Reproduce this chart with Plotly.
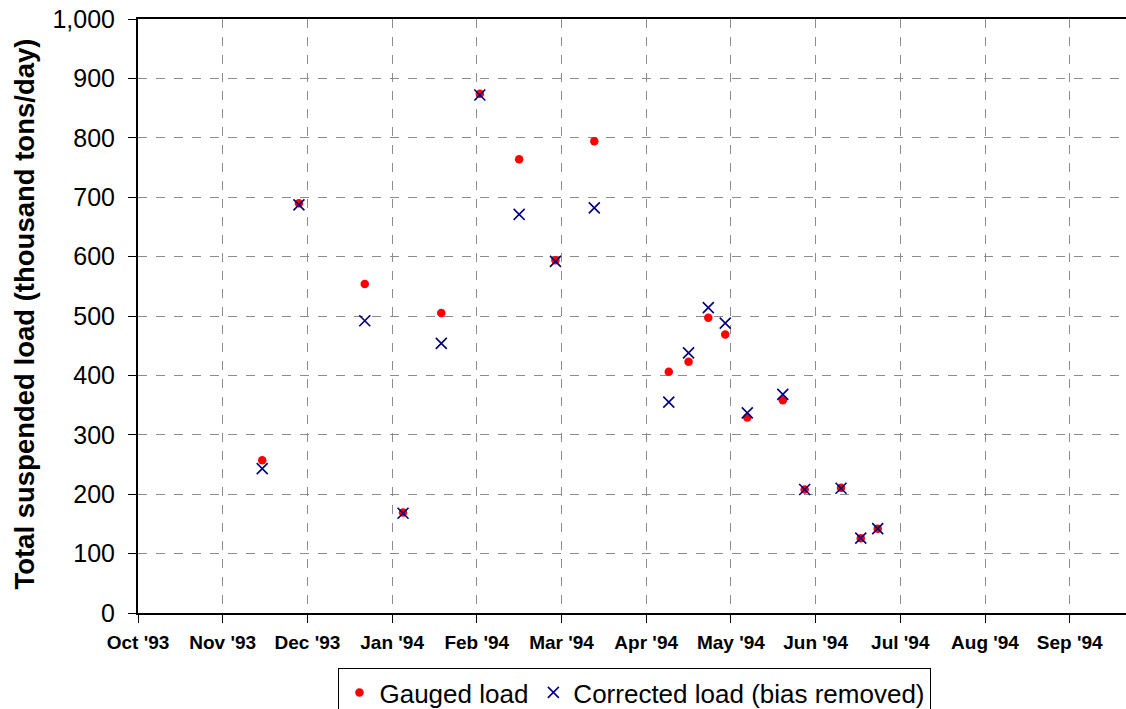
import calendar
from datetime import date
import plotly.graph_objects as go

# sample dates
sample_dates = [
    '1993-11-15', '1993-11-28', '1993-12-22', '1994-01-05', '1994-01-19',
    '1994-02-02', '1994-02-15', '1994-02-27', '1994-03-13', '1994-04-09',
    '1994-04-16', '1994-04-23', '1994-04-29', '1994-05-07', '1994-05-20',
    '1994-05-28', '1994-06-10', '1994-06-17', '1994-06-23',
]
gauged_load = [257, 690, 554, 169, 505, 874, 764, 594, 794, 406,
               423, 497, 469, 329, 358, 208, 211, 126, 142]
corrected_load = [243, 687, 492, 168, 454, 872, 671, 592, 682, 355,
                  438, 514, 488, 337, 368, 208, 210, 126, 142]
month_labels = ["Oct '93", "Nov '93", "Dec '93", "Jan '94", "Feb '94", "Mar '94",
                "Apr '94", "May '94", "Jun '94", "Jul '94", "Aug '94", "Sep '94"]


def month_position(s):
    # months since 1 Oct 1993, months drawn with equal width
    d = date.fromisoformat(s)
    days = calendar.monthrange(d.year, d.month)[1]
    return (d.year - 1993) * 12 + d.month - 10 + (d.day - 1) / days


x = [month_position(s) for s in sample_dates]

fig = go.Figure()
fig.add_trace(go.Scatter(
    x=x, y=gauged_load, mode='markers', name='Gauged load',
    marker=dict(symbol='circle', size=8.5, color='#ff0000'),
))
fig.add_trace(go.Scatter(
    x=x, y=corrected_load, mode='markers', name='Corrected load (bias removed)',
    marker=dict(symbol='x-thin', size=11, color='#000080',
                line=dict(color='#000080', width=1.6)),
))

font = 'Liberation Sans, Arial, sans-serif'
fig.update_layout(
    width=1126, height=709,
    margin=dict(l=138, r=0, t=19, b=96, autoexpand=False),
    plot_bgcolor='white', paper_bgcolor='white',
    font=dict(family=font, color='black'),
    showlegend=True,
    legend=dict(
        orientation='h', x=0.503, xanchor='center', y=-0.0926, yanchor='top',
        bordercolor='black', borderwidth=1, font=dict(size=26),
        itemwidth=30, tracegroupgap=0,
    ),
    xaxis=dict(
        range=[0, (1126 - 138) / 84.7],
        tickvals=list(range(len(month_labels))), ticktext=month_labels,
        tickfont=dict(size=19, family=font, weight='bold'),
        ticks='outside', ticklen=8, tickcolor='black', ticklabelstandoff=3,
        showline=True, linecolor='black', linewidth=2, mirror=True,
        showgrid=True, gridcolor='#8c8c8c', griddash='dash', gridwidth=1,
        zeroline=False,
    ),
    yaxis=dict(
        range=[0, 1000], dtick=100, tickformat=',',
        tickfont=dict(size=25),
        ticks='outside', ticklen=8, tickcolor='black', ticklabelstandoff=8,
        showline=True, linecolor='black', linewidth=2,
        showgrid=True, gridcolor='#8c8c8c', griddash='dash', gridwidth=1,
        zeroline=False,
    ),
    annotations=[dict(
        text='Total suspended load (thousand tons/day)',
        textangle=-90, xref='paper', yref='paper',
        x=-0.1144, y=0.504, xanchor='center', yanchor='middle',
        showarrow=False, font=dict(size=27.5, weight='bold'),
    )],
)

# drop the default 8px page margin so the figure fills the window
fig.write_html('out.html', config={'displayModeBar': False},
               post_script="document.body.style.margin = '0';")
